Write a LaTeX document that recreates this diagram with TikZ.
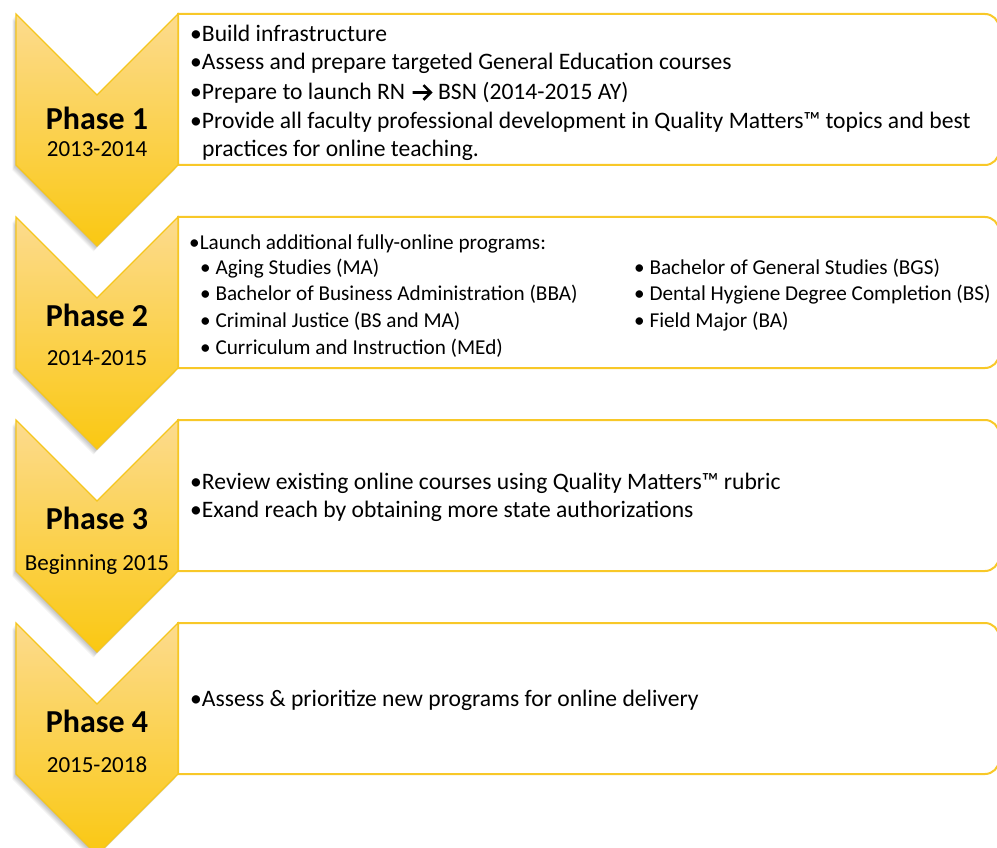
\documentclass[tikz,border=0pt]{standalone}
\usepackage{fontspec}
\setmainfont{Carlito}
\definecolor{chevline}{RGB}{245,198,30}
\definecolor{boxline}{RGB}{248,200,40}
\definecolor{chevtop}{RGB}{252,219,142}
\definecolor{chevbot}{RGB}{250,200,18}
\tikzset{
  chev/.style={draw=chevline, line width=1.2pt, top color=chevtop, bottom color=chevbot, line join=miter},
  shadowpart/.style={fill=black, opacity=0.045, draw=none},
  boxframe/.style={draw=boxline, line width=2pt, fill=white},
  txt/.style={anchor=base west, inner sep=0pt, font=\fontsize{23.6}{28}\selectfont},
  txts/.style={anchor=base west, inner sep=0pt, font=\fontsize{21.2}{26}\selectfont},
  phase/.style={anchor=base, inner sep=0pt, font=\fontsize{32}{38}\selectfont\bfseries},
  year/.style={anchor=base, inner sep=0pt, font=\fontsize{23}{28}\selectfont}
}
\newcommand\chevpath[1]{(16,#1) -- (97,{#1+81}) -- (178,#1) -- (178,{#1+151}) -- (97,{#1+232}) -- (16,{#1+151}) -- cycle}
\newcommand\boxpath[1]{(178,#1) -- (985,#1) .. controls (992.7,#1) and (999,{#1+6.3}) .. (999,{#1+14}) -- (999,{#1+137}) .. controls (999,{#1+144.7}) and (992.7,{#1+151}) .. (985,{#1+151}) -- (178,{#1+151}) -- cycle}
\newcommand\rarrow{\tikz[baseline=0pt,x=1pt,y=1pt]\draw[line width=2.6pt, line cap=butt, line join=miter] (0,7.5) -- (18,7.5) (11,14.8) -- (18.3,7.5) -- (11,0.2);}
\begin{document}
\begin{tikzpicture}[x=1pt,y=-1pt]
\useasboundingbox (0,0) rectangle (997,848);
\clip (0,0) rectangle (997,848);
\fill[white] (0,0) rectangle (997,848);
% boxes
\foreach \yy in {14,217,420,623} {
  \draw[boxframe] \boxpath{\yy};
}
% chevron shadows and chevrons
\foreach \yy in {14,217,420,623} {
  \foreach \k in {1,...,6} {
    \fill[shadowpart, shift={(-0.6*\k,0.9*\k)}] \chevpath{\yy};
  }
  \path[chev] \chevpath{\yy};
}
% phase labels
\node[phase] (p1) at (97,130) {Phase 1};
\node[year]  (y1) at (97,157) {2013-2014};
\node[phase] (p2) at (97,326) {Phase 2};
\node[year]  (y2) at (97,365) {2014-2015};
\node[phase] (p3) at (97,529) {Phase 3};
\node[year]  (y3) at (97,570) {Beginning 2015};
\node[phase] (p4) at (97,732) {Phase 4};
\node[year]  (y4) at (97,772) {2015-2018};
% box 1
\node[txt] (a1) at (190,42) {•Build infrastructure};
\node[txt] (a2) at (190,70) {•Assess and prepare targeted General Education courses};
\node[txt] (a3) at (190,100) {•Prepare to launch RN\hspace{6pt}\rarrow\hspace{6pt}BSN (2014-2015 AY)};
\node[txt] (a4) at (190,129) {•Provide all faculty professional development in Quality Matters™ topics and best};
\node[txt] (a5) at (202,157) {practices for online teaching.};
% box 2
\node[txts] (b0) at (189,249) {•Launch additional fully-online programs:};
\node[txts] (b1) at (200,274) {• Aging Studies (MA)};
\node[txts] (b2) at (200,300) {• Bachelor of Business Administration (BBA)};
\node[txts] (b3) at (200,327) {• Criminal Justice (BS and MA)};
\node[txts] (b4) at (200,354) {• Curriculum and Instruction (MEd)};
\node[txts] (c1) at (634,274) {• Bachelor of General Studies (BGS)};
\node[txts] (c2) at (634,300) {• Dental Hygiene Degree Completion (BS)};
\node[txts] (c3) at (634,327) {• Field Major (BA)};
% box 3
\node[txt] (d1) at (190,489) {•Review existing online courses using Quality Matters™ rubric};
\node[txt] (d2) at (190,517) {•Exand reach by obtaining more state authorizations};
% box 4
\node[txt] (e1) at (190,706) {•Assess \& prioritize new programs for online delivery};
\end{tikzpicture}
\end{document}
